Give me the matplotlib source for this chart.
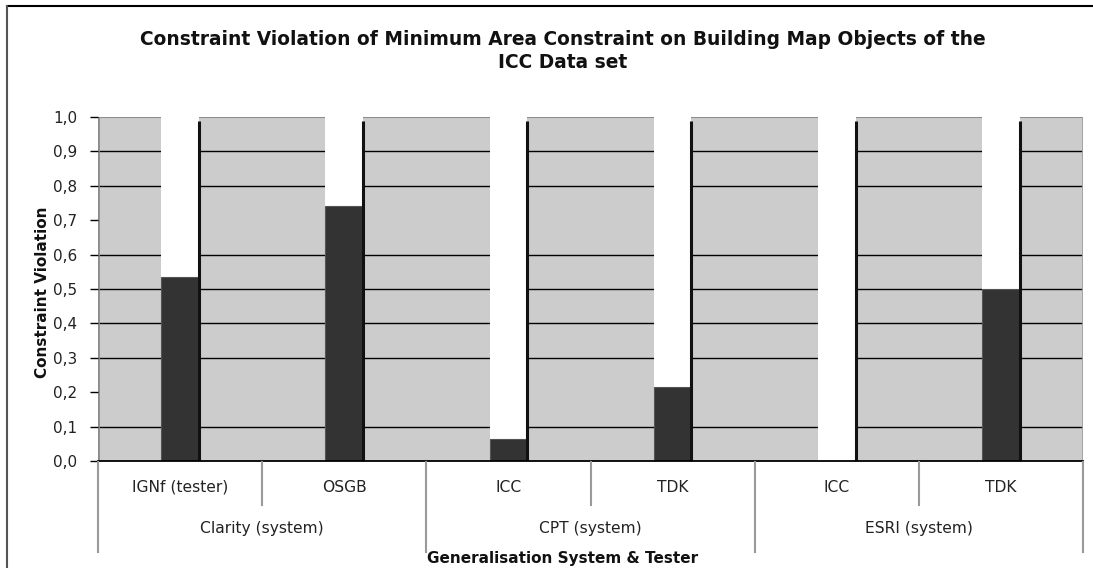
import matplotlib
matplotlib.use("Agg")
import matplotlib.pyplot as plt
from matplotlib.lines import Line2D
from matplotlib.transforms import blended_transform_factory
import numpy as np

# ---- data ----
testers = ["IGNf (tester)", "OSGB", "ICC", "TDK", "ICC", "TDK"]
systems = ["Clarity (system)", "CPT (system)", "ESRI (system)"]
violation = [0.535, 0.742, 0.064, 0.216, 0.0, 0.50]
reference_line = [0.988, 0.988, 0.988, 0.988, 0.988, 0.988]
yticks = [0.0, 0.1, 0.2, 0.3, 0.4, 0.5, 0.6, 0.7, 0.8, 0.9, 1.0]
ytick_labels = ["0,0", "0,1", "0,2", "0,3", "0,4", "0,5", "0,6", "0,7", "0,8", "0,9", "1,0"]
grid_levels = [0.1, 0.3, 0.4, 0.5, 0.6, 0.8, 0.9]

title = "Constraint Violation of Minimum Area Constraint on Building Map Objects of the\nICC Data set"
xlabel = "Generalisation System & Tester"
ylabel = "Constraint Violation"

W, H = 1093, 568
fig = plt.figure(figsize=(W / 100, H / 100), dpi=100)
plt.rcParams['font.family'] = ['DejaVu Sans']

def fy(py):
    return 1 - py / H

def fx(px):
    return px / W

ax_l, ax_r, ax_t, ax_b = 98, 1083, 117, 461
ax = fig.add_axes([fx(ax_l), fy(ax_b), fx(ax_r) - fx(ax_l), fy(ax_t) - fy(ax_b)])
ax.set_facecolor("#cccccc")
n = len(testers)
ax.set_xlim(0, n)
ax.set_ylim(0, 1.0)
for s in ax.spines.values():
    s.set_visible(False)

x = np.arange(n) + 0.5
bw = 0.23

# gridlines
for g in grid_levels:
    ax.axhline(g, color="black", lw=1.0, zorder=1)
ax.axhline(1.0, color="#8c8c8c", lw=1.5, zorder=1)
ax.axvline(0, color="#8c8c8c", lw=2, zorder=1)
ax.axvline(n, color="#a0a0a0", lw=2, zorder=1)

# white background columns
ax.bar(x, [1.0] * n, width=bw, color="white", edgecolor="none", zorder=2)
# dark bars
ax.bar(x, violation, width=bw, color="#333333", edgecolor="#555555", lw=0.8, zorder=3)
# thin black lines at right edge
ax.vlines(x + bw / 2, 0, reference_line, color="#111111", lw=2.2, zorder=4)

ax.axhline(0, color="black", lw=1.3, zorder=5, clip_on=False)

ax.set_yticks(yticks)
ax.set_yticklabels(ytick_labels, fontsize=11, color="#222222")
ax.tick_params(axis="y", length=6, width=1, color="black", pad=9)
ax.set_xticks([])

# multi-level category axis
tr = blended_transform_factory(ax.transData, fig.transFigure)
for b in [1, 3, 5]:
    fig.add_artist(Line2D([b, b], [fy(462), fy(505)], transform=tr, color="#999999", lw=1.5))
for b in [0, 2, 4, 6]:
    fig.add_artist(Line2D([b, b], [fy(462), fy(552)], transform=tr, color="#999999", lw=1.5))
for xi, lab in zip(x, testers):
    fig.text(xi, fy(487), lab, transform=tr, ha="center", va="center", fontsize=11.2, color="#222222")
for gi, lab in enumerate(systems):
    fig.text(2 * gi + 1, fy(528), lab, transform=tr, ha="center", va="center", fontsize=11.2, color="#222222")

fig.text(fx(563), fy(559), xlabel, ha="center", va="center", fontsize=11, fontweight="bold", color="#111111")
fig.text(fx(43), fy(292), ylabel, ha="center", va="center", rotation=90, fontsize=11, fontweight="bold", color="#111111")

fig.text(fx(563), fy(51), title, ha="center", va="center", fontsize=13.4, fontweight="bold",
         color="#111111", linespacing=1.25)

# figure border
fig.add_artist(Line2D([fx(7), 1], [fy(6), fy(6)], color="black", lw=1.5))
fig.add_artist(Line2D([fx(7), fx(7)], [fy(6), 0], color="#555555", lw=1.5))

fig.savefig("out.png", dpi=100)
